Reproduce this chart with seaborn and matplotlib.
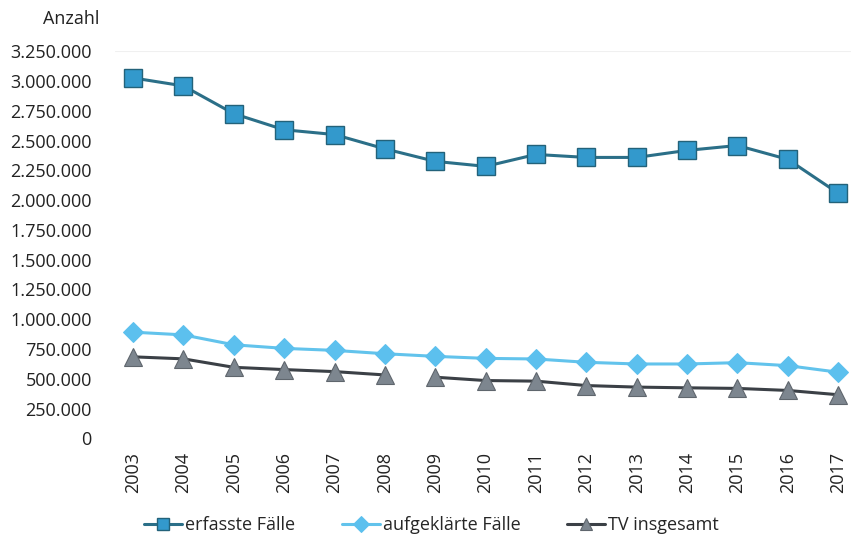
import pandas as pd
import numpy as np
import matplotlib.pyplot as plt
import seaborn as sns
from matplotlib.ticker import FuncFormatter

sns.set_style("white")
plt.rcParams['font.family'] = ['Open Sans', 'DejaVu Sans']

# --- Daten ---
jahre = [2003, 2004, 2005, 2006, 2007, 2008, 2009, 2010,
         2011, 2012, 2013, 2014, 2015, 2016, 2017]
erfasste_faelle = [3025000, 2958000, 2725000, 2590000, 2550000, 2430000, 2325000, 2283000,
                   2383000, 2358000, 2358000, 2417000, 2458000, 2342000, 2058000]
aufgeklaerte_faelle = [892000, 869000, 786000, 756000, 739000, 711000, 689000, 672000,
                       667000, 639000, 625000, 625000, 636000, 611000, 556000]
tv_insgesamt = [685000, 668000, 597000, 578000, 561000, 533000, 514000, 486000,
                481000, 444000, 431000, 425000, 420000, 403000, 367000]
y_ticks = list(range(0, 3250001, 250000))

df = pd.DataFrame({
    'Jahr': [str(j) for j in jahre],
    'erfasste Fälle': erfasste_faelle,
    'aufgeklärte Fälle': aufgeklaerte_faelle,
    'TV insgesamt': tv_insgesamt,
})
df['pos'] = np.arange(len(df))
# in der Vorlage fehlt das Linienstück 2008-2009 bei TV
df['teil'] = np.where(df['pos'] <= 5, 0, 1)

fig, ax = plt.subplots(figsize=(8.55, 5.38), dpi=100)
fig.subplots_adjust(left=0.135, right=0.995, top=0.905, bottom=0.185)

sns.lineplot(data=df, x='pos', y='erfasste Fälle', ax=ax, color='#2b6f88', linewidth=2.2,
             marker='s', markersize=13, markerfacecolor='#3399cc', markeredgecolor='#23627a',
             markeredgewidth=1.0, label='erfasste Fälle')
sns.lineplot(data=df, x='pos', y='aufgeklärte Fälle', ax=ax, color='#62c3ec', linewidth=2.2,
             marker='D', markersize=10, markerfacecolor='#5cc0ee', markeredgecolor='#5cc0ee',
             label='aufgeklärte Fälle')
for teil, grp in df.groupby('teil'):
    sns.lineplot(data=grp, x='pos', y='TV insgesamt', ax=ax, color='#3b4046', linewidth=2.2,
                 marker='^', markersize=13, markerfacecolor='#7d868f', markeredgecolor='#5f666d',
                 markeredgewidth=0.8, label='TV insgesamt' if teil == 0 else '_nolegend_')

ax.set_xlim(-0.35, len(jahre) - 0.75)
ax.set_ylim(0, 3250000)
ax.set_xticks(df['pos'])
ax.set_xticklabels(df['Jahr'], rotation=90, fontsize=13, color='#222222')
ax.set_yticks(y_ticks)
ax.yaxis.set_major_formatter(FuncFormatter(lambda v, p: f"{int(v):,}".replace(',', '.')))
ax.tick_params(axis='y', labelsize=13, labelcolor='#222222', length=0, pad=17)
ax.tick_params(axis='x', length=0, pad=10)
ax.set_xlabel('')
ax.set_ylabel('')
for s in ax.spines.values():
    s.set_visible(False)
ax.axhline(3250000, color='#f0f0f0', linewidth=0.8, zorder=0)

fig.text(0.05, 0.965, 'Anzahl', fontsize=13, color='#222222', va='center')

leg = ax.legend(loc='center', bbox_to_anchor=(0.43, -0.223), ncol=3, frameon=False,
                fontsize=13, handlelength=2.1, columnspacing=2.6, handletextpad=0.15,
                borderpad=0.1)
for h in leg.legend_handles:
    h.set_markersize(8)

plt.savefig('out.png', dpi=100)
